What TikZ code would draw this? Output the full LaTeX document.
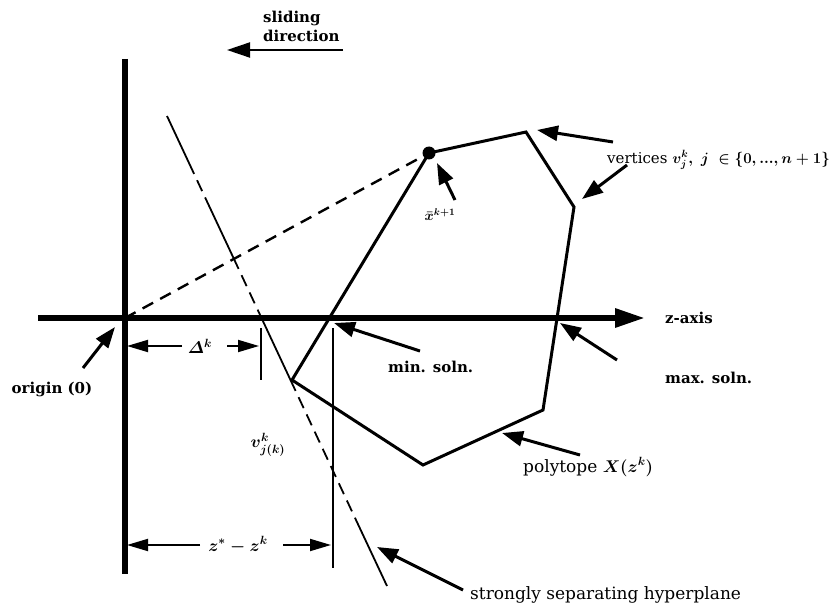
\RequirePackage{fix-cm}
\documentclass[tikz,border=0pt]{standalone}
\usepackage{amsmath}
\usepackage{fontspec}
\setmainfont{DejaVu Serif}
\usetikzlibrary{arrows.meta}
\tikzset{
  axisl/.style={line width=6pt},
  polyl/.style={line width=3pt,line join=miter},
  thinl/.style={line width=1.8pt},
  dashl/.style={line width=2.4pt,dash pattern=on 12pt off 8pt},
  hdash/.style={line width=1.8pt,dash pattern=on 12pt off 7pt},
  larr/.style={-{Triangle[length=21pt,width=15pt]},line width=3pt},
  darr/.style={-{Triangle[length=21pt,width=12pt]},line width=1.8pt},
  blbl/.style={font=\fontsize{15}{19}\selectfont\bfseries,inner sep=0pt},
  lbl/.style={font=\fontsize{17}{19}\selectfont\boldmath,inner sep=0pt}
}

\begin{document}
\begin{tikzpicture}[x=1pt,y=-1pt]
  \useasboundingbox (0,0) rectangle (838,607);
  % axes
  \coordinate (o) at (125,318);
  \coordinate (vtop) at (125,59); \coordinate (vbot) at (125,574);
  \coordinate (hl) at (38,318); \coordinate (hr) at (645,318);
  \draw[axisl] (vtop) -- (vbot);
  \draw[axisl,-{Triangle[length=30pt,width=18pt]}] (hl) -- (hr);
  \node[blbl,anchor=west] (zlbl) at (665,318) {z-axis};
  % sliding direction
  \node[blbl,align=left,anchor=west] (slide) at (263,26) {sliding\\direction};
  \coordinate (s1) at (343,50); \coordinate (s2) at (227,50);
  \draw[-{Triangle[length=23pt,width=15pt]},line width=2pt] (s1) -- (s2);
  % polytope
  \coordinate (pa) at (429,153); \coordinate (pb) at (526,132);
  \coordinate (pc) at (574,207); \coordinate (pd) at (543,410);
  \coordinate (pe) at (423,465); \coordinate (pf) at (292,380);
  \draw[polyl] (pa) -- (pb) -- (pc) -- (pd) -- (pe) -- (pf) -- cycle;
  \draw[dashl] (o) -- (pa);
  \fill (pa) circle (6.5pt);
  % hyperplane
  \coordinate (h0) at (167,116); \coordinate (h1) at (189,163);
  \coordinate (h2) at (206.3,200); \coordinate (h3) at (233.5,258);
  \coordinate (h4) at (261.5,318); \coordinate (h5) at (290.5,380);
  \coordinate (h6) at (356,520); \coordinate (h7) at (387,586);
  \draw[thinl] (h0) -- (h1); \draw[hdash] (h1) -- (h2);
  \draw[thinl] (h2) -- (h3); \draw[hdash] (h3) -- (h4);
  \draw[thinl] (h4) -- (h5); \draw[hdash] (h5) -- (h6);
  \draw[thinl] (h6) -- (h7);
  % ticks
  \coordinate (t1) at (261,328); \coordinate (t2) at (261,380);
  \coordinate (m1) at (333,328); \coordinate (m2) at (333,568);
  \draw[thinl] (t1) -- (t2); \draw[thinl] (m1) -- (m2);
  % dimensions
  \node[lbl] (dlt) at (200,346) {$\varDelta^k$};
  \coordinate (d1) at (182,346); \coordinate (d2) at (127,346);
  \coordinate (d3) at (227,346); \coordinate (d4) at (259,346);
  \draw[darr] (d1) -- (d2); \draw[darr] (d3) -- (d4);
  \node[lbl] (zdif) at (238,545) {$z^* - z^k$};
  \coordinate (e1) at (200,545); \coordinate (e2) at (127,545);
  \coordinate (e3) at (283,545); \coordinate (e4) at (331,545);
  \draw[darr] (e1) -- (e2); \draw[darr] (e3) -- (e4);
  % labels
  \node[lbl,anchor=west,font=\fontsize{15}{17}\selectfont\boldmath] (vert) at (607,160) {vertices $v_j^k,\ j\ \in \{0, ..., n + 1\}$};
  \coordinate (va1) at (613,142); \coordinate (va2) at (537,130);
  \coordinate (vb1) at (627,165); \coordinate (vb2) at (582,199);
  \draw[larr] (va1) -- (va2); \draw[larr] (vb1) -- (vb2);
  \node[lbl,font=\fontsize{14}{15}\selectfont\boldmath] (xbar) at (440,215) {$\bar{x}^{k+1}$};
  \coordinate (xa1) at (455,200); \coordinate (xa2) at (437,163);
  \draw[larr] (xa1) -- (xa2);
  \node[blbl] (orig) at (52,389) {origin (0)};
  \coordinate (oa1) at (83,368); \coordinate (oa2) at (115,327);
  \draw[larr] (oa1) -- (oa2);
  \node[blbl,anchor=west] (minl) at (388,367) {min. soln.};
  \coordinate (ma1) at (420,351); \coordinate (ma2) at (334,323);
  \draw[larr] (ma1) -- (ma2);
  \node[blbl,anchor=west] (maxl) at (665,378) {max. soln.};
  \coordinate (xx1) at (617,360); \coordinate (xx2) at (560,323);
  \draw[larr] (xx1) -- (xx2);
  \node[lbl] (vjk) at (268,445) {$v^k_{j(k)}$};
  \node[lbl,anchor=west] (poly) at (523,467) {polytope $X(z^k)$};
  \coordinate (pp1) at (580,455); \coordinate (pp2) at (502,433);
  \draw[larr] (pp1) -- (pp2);
  \node[lbl,anchor=west] (sep) at (470,595) {strongly separating hyperplane};
  \coordinate (sp1) at (463,590); \coordinate (sp2) at (377,547);
  \draw[larr] (sp1) -- (sp2);
\end{tikzpicture}
\end{document}
